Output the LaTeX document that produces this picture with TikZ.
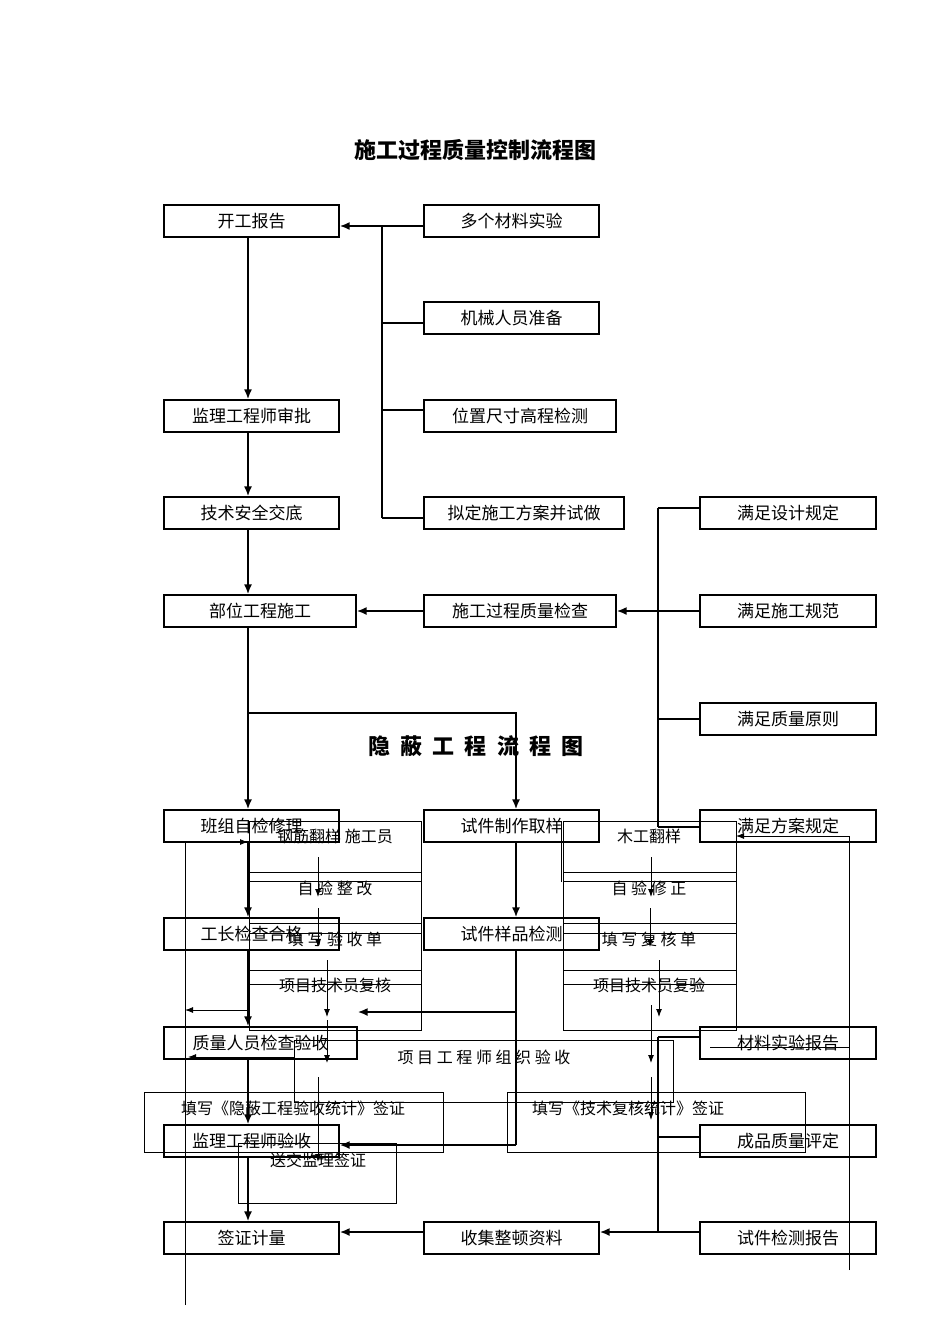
\documentclass[tikz,border=0pt]{standalone}
\usepackage{fontspec}
\setmainfont{Noto Sans CJK SC}
\usetikzlibrary{arrows.meta}
\tikzset{
 box/.style={draw,line width=1.2pt,minimum height=32pt,inner sep=0pt,font=\fontsize{17}{20}\selectfont},
 thk/.style={line width=2.6pt},
 thka/.style={line width=2.6pt,-{Latex[length=10pt,width=8pt]}},
 thn/.style={line width=0.9pt},
 thna/.style={line width=0.9pt,-{Latex[length=8pt,width=6pt]}},
 lbl/.style={font=\fontsize{16}{19}\selectfont,inner sep=0pt}
}
\begin{document}
\begin{tikzpicture}[x=1pt,y=-1pt]
\useasboundingbox (0,0) rectangle (950,1344);
\node[font=\fontsize{22}{26}\selectfont\bfseries] (t1) at (475,150) {施工过程质量控制流程图};
\node[font=\fontsize{22}{26}\selectfont\bfseries] (t2) at (476,746) {隐\ \ 蔽\ \ 工\ \ 程\ \ 流\ \ 程\ \ 图};
% left column
\node[box,minimum width=175pt] (a1) at (251.5,221) {开工报告};
\node[box,minimum width=175pt] (a2) at (251.5,416) {监理工程师审批};
\node[box,minimum width=175pt] (a3) at (251.5,513) {技术安全交底};
\node[box,minimum width=192pt] (a4) at (260,611) {部位工程施工};
\node[box,minimum width=175pt] (a5) at (251.5,826) {班组自检修理};
\node[box,minimum width=175pt] (a6) at (251.5,934) {工长检查合格};
\node[box,minimum width=193pt] (a7) at (260.5,1043) {质量人员检查验收};
\node[box,minimum width=175pt] (a8) at (251.5,1141) {监理工程师验收};
\node[box,minimum width=175pt] (a9) at (251.5,1238) {签证计量};
% middle column
\node[box,minimum width=175pt] (b1) at (511.5,221) {多个材料实验};
\node[box,minimum width=175pt] (b2) at (511.5,318) {机械人员准备};
\node[box,minimum width=192pt] (b3) at (520,416) {位置尺寸高程检测};
\node[box,minimum width=200pt] (b4) at (524,513) {拟定施工方案并试做};
\node[box,minimum width=192pt] (b5) at (520,611) {施工过程质量检查};
\node[box,minimum width=175pt] (b6) at (511.5,826) {试件制作取样};
\node[box,minimum width=175pt] (b7) at (511.5,934) {试件样品检测};
\node[box,minimum width=175pt] (b8) at (511.5,1238) {收集整顿资料};
% right column
\node[box,minimum width=176pt] (c1) at (788,513) {满足设计规定};
\node[box,minimum width=176pt] (c2) at (788,611) {满足施工规范};
\node[box,minimum width=176pt] (c3) at (788,719) {满足质量原则};
\node[box,minimum width=176pt] (c4) at (788,826) {满足方案规定};
\node[box,minimum width=176pt] (c5) at (788,1043) {材料实验报告};
\node[box,minimum width=176pt] (c6) at (788,1141) {成品质量评定};
\node[box,minimum width=176pt] (c7) at (788,1238) {试件检测报告};
% thick connectors
\draw[thka] (a1.south -| 248,0) -- (a2.north -| 248,0);
\draw[thka] (a2.south -| 248,0) -- (a3.north -| 248,0);
\draw[thka] (a3.south -| 248,0) -- (a4.north -| 248,0);
\draw[thka] (a4.south -| 248,0) -- (a5.north -| 248,0);
\draw[thka] (a5.south -| 248,0) -- (a6.north -| 248,0);
\draw[thka] (a6.south -| 248,0) -- (a7.north -| 248,0);
\draw[thka] (a7.south -| 248,0) -- (a8.north -| 248,0);
\draw[thka] (a8.south -| 248,0) -- (a9.north -| 248,0);
\draw[thka] (248,713) -- (516,713) -- (b6.north -| 516,0);
\draw[thka] (b6.south -| 516,0) -- (b7.north -| 516,0);
\draw[thk] (b7.south -| 516,0) -- (516,1145);
\draw[thka] (516,1012) -- (a7.east |- 0,1012);
\draw[thka] (516,1145) -- (a8.east |- 0,1145);
\draw[thk] (382,226) -- (382,518);
\draw[thka] (b1.west |- 0,226) -- (a1.east |- 0,226);
\draw[thk] (382,323) -- (b2.west |- 0,323);
\draw[thk] (382,410) -- (b3.west |- 0,410);
\draw[thk] (382,518) -- (b4.west |- 0,518);
\draw[thka] (b5.west) -- (a4.east);
\draw[thk] (658,508) -- (658,827);
\draw[thk] (c1.west |- 0,508) -- (658,508);
\draw[thka] (c2.west) -- (b5.east);
\draw[thk] (c3.west) -- (658,719);
\draw[thk] (c4.west |- 0,827) -- (658,827);
\draw[thk] (658,1037) -- (658,1232);
\draw[thk] (c5.west |- 0,1037) -- (658,1037);
\draw[thk] (c6.west |- 0,1137) -- (658,1137);
\draw[thka] (c7.west |- 0,1232) -- (b8.east |- 0,1232);
\draw[thka] (b8.west |- 0,1232) -- (a9.east |- 0,1232);
% thin overlay diagram
\draw[thn] (249,821) rectangle (421,1030);
\draw[thn] (249,872) -- (421,872) (249,881) -- (421,881) (249,923) -- (421,923) (249,933) -- (421,933) (249,970) -- (421,970) (249,984) -- (421,984);
\draw[thn] (563,821) rectangle (736,1030);
\draw[thn] (563,872) -- (736,872) (563,881) -- (736,881) (563,923) -- (736,923) (563,933) -- (736,933) (563,970) -- (736,970) (563,984) -- (736,984);
\draw[thn] (561,821) -- (561,882);
\node[lbl] (d1) at (335,836) {钢筋翻样 施工员};
\node[lbl] (d2) at (335,888) {自\ 验\ 整\ 改};
\node[lbl] (d3) at (335,939) {填\ 写\ 验\ 收\ 单};
\node[lbl] (d4) at (335,985) {项目技术员复核};
\node[lbl] (e1) at (649,836) {木工翻样};
\node[lbl] (e2) at (649,888) {自\ 验\ 修\ 正};
\node[lbl] (e3) at (649,939) {填\ 写\ 复\ 核\ 单};
\node[lbl] (e4) at (649,985) {项目技术员复验};
\draw[thna] (318,857) -- (318,897);
\draw[thna] (318,908) -- (318,947);
\draw[thna] (327,960) -- (327,1017);
\draw[thna] (327,1020) -- (327,1063);
\draw[thna] (318,1077) -- (318,1162);
\draw[thna] (651,857) -- (651,897);
\draw[thna] (650,908) -- (650,947);
\draw[thna] (659,960) -- (659,1017);
\draw[thna] (651,1005) -- (651,1063);
\draw[thna] (651,1077) -- (651,1120);
\draw[thn] (294,1040) rectangle (673,1102);
\node[lbl] (f1) at (484,1057) {项\ 目\ 工\ 程\ 师\ 组\ 织\ 验\ 收};
\draw[thn] (144,1092) rectangle (443,1152);
\node[lbl] (f2) at (293,1108) {填写《隐蔽工程验收统计》签证};
\draw[thn] (507,1092) rectangle (805,1152);
\node[lbl] (f3) at (628,1108) {填写《技术复核统计》签证};
\draw[thn] (238,1143) rectangle (396,1203);
\node[lbl] (f4) at (318,1160) {送交监理签证};
\draw[thna] (185,1305) -- (185,842) -- (248,842);
\draw[thna] (248,1010) -- (185,1010);
\draw[thna] (294,1057) -- (188,1057);
\draw[thna] (849,1270) -- (849,836) -- (736,836);
\draw[thn] (710,1047) -- (849,1047);
\end{tikzpicture}
\end{document}
